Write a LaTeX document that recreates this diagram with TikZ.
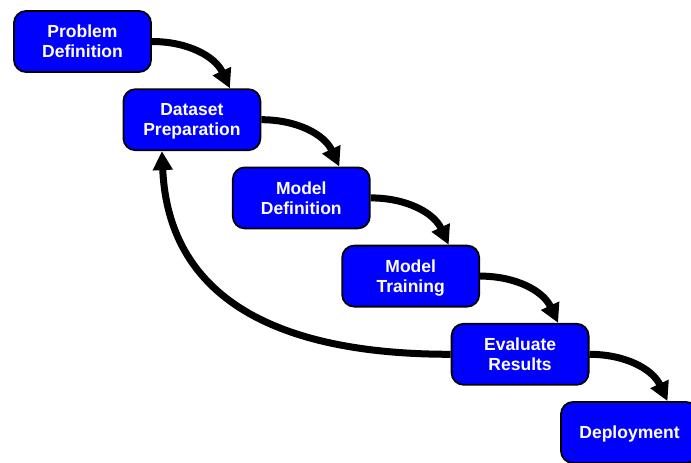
\documentclass[tikz,border=0pt]{standalone}
\usepackage{fontspec}
\setmainfont{Liberation Sans}
\usetikzlibrary{arrows.meta}
\begin{document}
\begin{tikzpicture}[x=1pt,y=1pt,
  stepbox/.style={draw=black,line width=1.8pt,fill=blue,rounded corners=12pt,
    minimum width=137pt,minimum height=61pt,inner sep=0pt,text=white,align=center,
    text depth=0pt,font=\fontsize{17.5}{20}\selectfont\bfseries},
  flow/.style={line width=7pt,-{Triangle[length=19pt,width=19pt]}}]
\useasboundingbox (0,0) rectangle (691,-463);
\node[stepbox] (n1) at (82.5,-41.5) {Problem\\Definition};
\node[stepbox] (n2) at (191.9,-119.7) {Dataset\\Preparation};
\node[stepbox] (n3) at (301.3,-197.9) {Model\\Definition};
\node[stepbox] (n4) at (410.7,-276.1) {Model\\Training};
\node[stepbox] (n5) at (520.1,-354.3) {Evaluate\\Results};
\node[stepbox] (n6) at (629.5,-432.5) {Deployment};
\draw[flow] (n1.east) to[out=0,in=115] ([xshift=38pt]n2.north);
\draw[flow] (n2.east) to[out=0,in=115] ([xshift=38pt]n3.north);
\draw[flow] (n3.east) to[out=0,in=115] ([xshift=38pt]n4.north);
\draw[flow] (n4.east) to[out=0,in=115] ([xshift=38pt]n5.north);
\draw[flow] (n5.east) to[out=0,in=115] ([xshift=38pt]n6.north);
\draw[flow] (n5.west) .. controls +(-120,0) and +(8,-177) .. ([xshift=-30pt]n2.south);
\end{tikzpicture}
\end{document}
